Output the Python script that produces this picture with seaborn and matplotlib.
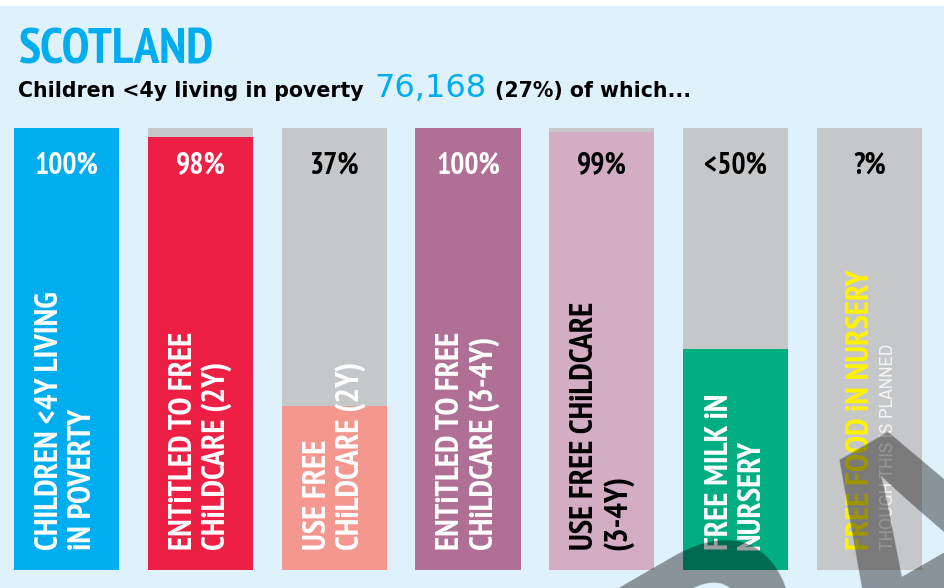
import matplotlib
matplotlib.use("Agg")
import matplotlib.pyplot as plt
import seaborn as sns
import pandas as pd
from matplotlib.patches import Rectangle
from matplotlib import font_manager as fm

# ---------------- data ----------------
categories = [
    "CHILDREN <4Y LIVING\niN POVERTY",
    "ENTiTLED TO FREE\nCHiLDCARE (2Y)",
    "USE FREE\nCHiLDCARE (2Y)",
    "ENTiTLED TO FREE\nCHiLDCARE (3-4Y)",
    "USE FREE CHiLDCARE\n(3-4Y)",
    "FREE MILK iN\nNURSERY",
    "FREE FOOD iN NURSERY",
]
values = [100, 98, 37, 100, 99, 50, 0]
value_labels = ["100%", "98%", "37%", "100%", "99%", "<50%", "?%"]
note_last = "THOUGH THIS iS PLANNED"
title = "SCOTLAND"
subtitle_parts = ["Children <4y living in poverty", "76,168", "(27%) of which..."]
watermark = "DRAFT"

# ---------------- styles ----------------
BG = "#dff1fb"
GREY = "#c6c7c9"
BLUE = "#00aeef"
bar_colors = ["#00aeef", "#ed1f45", "#f4978e", "#b07095", "#d2adc3", "#00ae82", GREY]
pct_colors = ["white", "white", "black", "white", "black", "black", "black"]
label_colors = ["white", "white", "white", "white", "black", "white", "#fff200"]

sns.set_theme(style="white")
plt.rcParams["font.family"] = ["DejaVu Sans"]


def find_condensed(bold):
    prefs = ["narrow", "condensed"]
    for key in prefs:
        for f in fm.fontManager.ttflist:
            fn = f.fname.lower()
            if key in fn and "italic" not in fn and "oblique" not in fn:
                is_bold = ("bold" in fn) and ("semibold" not in fn) and ("extrabold" not in fn)
                if is_bold == bold:
                    return fm.FontProperties(fname=f.fname)
    return fm.FontProperties(family="DejaVu Sans", weight="bold" if bold else "normal")


COND_B = find_condensed(True)
COND_R = find_condensed(False)

W, H = 944, 588
fig = plt.figure(figsize=(W / 100, H / 100), dpi=100, facecolor="white")
fig.add_artist(Rectangle((0, 0), 1, (H - 6) / H, transform=fig.transFigure,
                         facecolor=BG, edgecolor="none", zorder=-10))
renderer = fig.canvas.get_renderer()

ax = fig.add_axes([-0.4 / W, 1 - 570 / H, 936.8 / W, 442 / H])
ax.patch.set_alpha(0)

df = pd.DataFrame({"category": categories, "value": values, "full": [100] * len(values)})
sns.barplot(data=df, x="category", y="full", color=GREY, width=0.785,
            linewidth=0, saturation=1, ax=ax)
sns.barplot(data=df, x="category", y="value", hue="category", palette=bar_colors,
            width=0.785, linewidth=0, saturation=1, legend=False, ax=ax)
ax.set_xlim(-0.5, len(values) - 0.5)
ax.set_ylim(0, 100)
ax.axis("off")


def fit_size(text_artist, target_px, vertical=False):
    bb = text_artist.get_window_extent(renderer)
    cur = bb.height if vertical else bb.width
    text_artist.set_fontsize(text_artist.get_fontsize() * target_px / cur)
    return text_artist.get_fontsize()


# percentage labels: size fitted so "100%" is ~64px wide
probe = ax.text(0, 0, "100%", fontproperties=COND_B, fontsize=20)
pct_fs = min(fit_size(probe, 64), 23)
probe.remove()
for i, lab in enumerate(value_labels):
    ax.text(i, 91.6, lab, ha="center", va="center", fontproperties=COND_B,
            fontsize=pct_fs, color=pct_colors[i])

# rotated labels: size fitted so "CHILDREN <4Y LIVING" is ~258px long
probe = ax.text(0, 0, "CHILDREN <4Y LIVING", rotation=90, fontproperties=COND_B, fontsize=20)
lab_fs = min(fit_size(probe, 258, vertical=True), 23.5)
probe.remove()
for i, cat in enumerate(categories[:-1]):
    ax.text(i, 4.5, cat, rotation=90, rotation_mode="anchor", ha="left", va="center",
            fontproperties=COND_B, fontsize=lab_fs, linespacing=1.1,
            color=label_colors[i], multialignment="left")

last = len(categories) - 1
ax.text(last - 0.064, 4.5, categories[last], rotation=90, rotation_mode="anchor",
        ha="left", va="center", fontproperties=COND_B, fontsize=lab_fs,
        color=label_colors[last])
t_note = ax.text(last + 0.14, 4.5, note_last, rotation=90, rotation_mode="anchor",
                 ha="left", va="center", fontproperties=COND_R, fontsize=12,
                 color="#f4f4f4")
fit_size(t_note, 205, vertical=True)

# title
t_title = fig.text(18 / W, 1 - 64 / H, title, fontproperties=COND_B, fontsize=30,
                   color=BLUE, va="baseline", ha="left")
fit_size(t_title, 196)

# subtitle (sequential pieces)
base_y = 1 - 97 / H
t1 = fig.text(18 / W, base_y, subtitle_parts[0], fontsize=14.8, weight="bold",
              color="black", va="baseline", ha="left")
x1 = t1.get_window_extent(renderer).x1
t2 = fig.text((x1 + 11) / W, base_y, subtitle_parts[1], fontsize=23,
              color=BLUE, va="baseline", ha="left")
x2 = t2.get_window_extent(renderer).x1
fig.text((x2 + 8) / W, base_y, subtitle_parts[2], fontsize=14.8, weight="bold",
         color="black", va="baseline", ha="left")

# watermark
fig.text(460 / W, -340 / H, watermark, rotation=30, rotation_mode="anchor",
         ha="left", va="baseline", fontsize=237, weight="bold",
         family=["Liberation Sans", "DejaVu Sans"],
         color="black", alpha=0.39, zorder=100)

fig.savefig("out.png", dpi=100, facecolor="white")
